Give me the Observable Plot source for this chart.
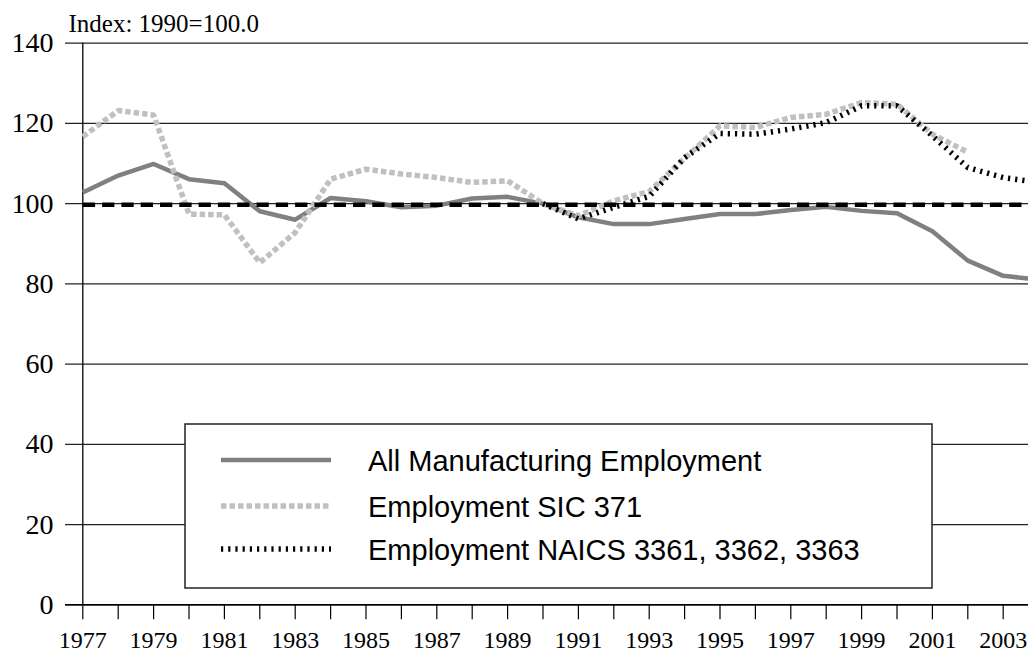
<!DOCTYPE html>
<html>
<head>
<meta charset="utf-8">
<script src="https://cdn.jsdelivr.net/npm/d3@7"></script>
<script src="https://cdn.jsdelivr.net/npm/@observablehq/plot@0.6"></script>
<style>
  html, body { margin: 0; padding: 0; background: #fff; }
  #wrap { position: relative; width: 1028px; height: 654px; overflow: hidden; }
  #wrap svg.plot { overflow: hidden; }
  #legend { position: absolute; left: 0; top: 0; overflow: visible; }
</style>
</head>
<body>
<div id="wrap"></div>
<script>
// ---- data ----
const years = [1977,1978,1979,1980,1981,1982,1983,1984,1985,1986,1987,1988,1989,1990,
               1991,1992,1993,1994,1995,1996,1997,1998,1999,2000,2001,2002,2003,2004];
const allMfg = [102.8,107.0,109.9,106.1,105.1,98.1,96.0,101.4,100.6,99.1,99.5,101.3,101.7,100.0,
                96.6,94.9,94.9,96.2,97.4,97.4,98.4,99.2,98.2,97.6,93.1,85.8,82.0,81.1];
const sicYears = years.slice(0, 26); // 1977-2002
const sic371 = [116.7,123.2,122.1,97.4,97.2,85.3,92.8,106.1,108.6,107.4,106.5,105.3,105.7,100.0,
                97.0,100.7,103.0,111.3,119.4,119.0,121.5,122.3,125.2,124.8,117.3,112.8];
const naicsYears = years.slice(13); // 1990-2004
const naics = [100.0,96.2,99.1,101.8,111.5,117.5,117.3,118.6,120.2,124.4,124.4,116.9,109.0,106.5,105.3];
const baseline = years.map(() => 100);
const yTicks = [0,20,40,60,80,100,120,140];
const xTickLabels = [1977,1979,1981,1983,1985,1987,1989,1991,1993,1995,1997,1999,2001,2003];
const seriesNames = ["All Manufacturing Employment", "Employment SIC 371", "Employment NAICS 3361, 3362, 3363"];
const titleText = "Index: 1990=100.0";

// ---- tables ----
const tAll = years.map((yr, i) => ({year: yr, value: allMfg[i]}));
const tSic = sicYears.map((yr, i) => ({year: yr, value: sic371[i]}));
const tNaics = naicsYears.map((yr, i) => ({year: yr, value: naics[i]}));
const tBase = years.map((yr, i) => ({year: yr, value: baseline[i]}));

// ---- styles ----
const sty = [
  {stroke: "#808080", strokeWidth: 4.5, strokeDasharray: null},
  {stroke: "#c0c0c0", strokeWidth: 5.5, strokeDasharray: "5.5,3"},
  {stroke: "#000000", strokeWidth: 5.5, strokeDasharray: "2.2,5"}
];

const step = 35.4, x0 = 82.3;
const chart = Plot.plot({
  width: 1028,
  height: 654,
  marginTop: 42.7,
  marginBottom: 49.7,
  marginLeft: 65,
  marginRight: 0,
  x: {type: "linear", domain: [1977, 2004], range: [x0, x0 + 27 * step]},
  y: {type: "linear", domain: [0, 140]},
  style: {fontFamily: "'Liberation Serif','Times New Roman',serif", background: "#fff", color: "#000"},
  marks: [
    Plot.ruleY(yTicks, {stroke: "#222", strokeWidth: 1.2}),
    Plot.ruleY([0], {stroke: "#000", strokeWidth: 1.4}),
    Plot.ruleX([1977], {stroke: "#000", strokeWidth: 1.3}),
    Plot.axisY({ticks: yTicks, tickSize: 0, tickPadding: 12, fontSize: 28, label: null, tickFormat: d => String(d)}),
    Plot.axisX({ticks: years, tickSize: 15, strokeWidth: 1.2, tickFormat: () => "", label: null}),
    Plot.axisX({ticks: xTickLabels, tickSize: 0, tickPadding: 26, fontSize: 24, label: null, tickFormat: d => String(d)}),
    Plot.line(tAll, {x: "year", y: "value", ...sty[0], strokeLinejoin: "round", strokeLinecap: "butt"}),
    Plot.line(tSic, {x: "year", y: "value", ...sty[1], strokeLinecap: "butt", strokeLinejoin: "miter"}),
    Plot.line(tNaics, {x: "year", y: "value", ...sty[2], strokeLinecap: "butt", strokeLinejoin: "miter"}),
    Plot.line(tBase, {x: "year", y: "value", stroke: "#000", strokeWidth: 4.5, strokeDasharray: "12.3,7", strokeLinecap: "butt", dy: 1}),
    Plot.text([titleText], {frameAnchor: "top-left", textAnchor: "start", lineAnchor: "middle", dx: 3, dy: -19.5, fontSize: 25})
  ]
});
document.getElementById("wrap").appendChild(chart);

// ---- legend overlay ----
const L = {left: 185, top: 424, w: 747, h: 164, sx1: 36, sx2: 146, tx: 183, rows: [36, 82, 125]};
const lg = d3.select("#wrap").append("svg")
  .attr("id", "legend")
  .attr("width", L.w + 2).attr("height", L.h + 2)
  .style("left", (L.left - 1) + "px").style("top", (L.top - 1) + "px");
lg.append("rect").attr("x", 1).attr("y", 1).attr("width", L.w).attr("height", L.h)
  .attr("fill", "#fff").attr("stroke", "#222").attr("stroke-width", 1.5);
seriesNames.forEach((name, i) => {
  const y = L.rows[i] + 1;
  lg.append("line").attr("x1", L.sx1 + 1).attr("x2", L.sx2 + 1).attr("y1", y).attr("y2", y)
    .attr("stroke", sty[i].stroke).attr("stroke-width", sty[i].strokeWidth)
    .attr("stroke-dasharray", sty[i].strokeDasharray);
  lg.append("text").attr("x", L.tx + 1).attr("y", y + 11)
    .attr("font-family", "'Liberation Sans',Arial,sans-serif").attr("font-size", 29)
    .attr("fill", "#000").text(name);
});
</script>
</body>
</html>
